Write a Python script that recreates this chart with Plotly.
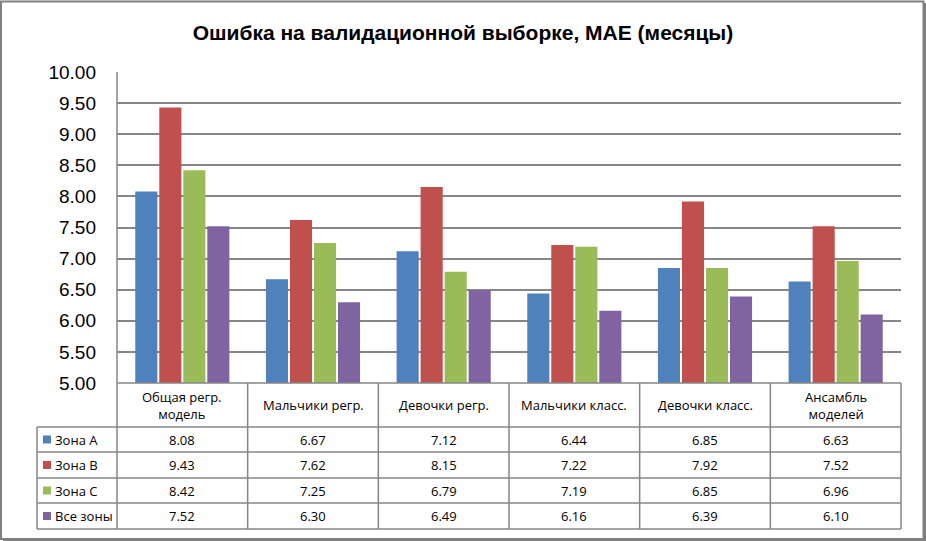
import plotly.graph_objects as go

categories = ["Общая регр.<br>модель", "Мальчики регр.", "Девочки регр.",
              "Мальчики класс.", "Девочки класс.", "Ансамбль<br>моделей"]
series_names = ["Зона А", "Зона В", "Зона С", "Все зоны"]
zone_a = [8.08, 6.67, 7.12, 6.44, 6.85, 6.63]
zone_b = [9.43, 7.62, 8.15, 7.22, 7.92, 7.52]
zone_c = [8.42, 7.25, 6.79, 7.19, 6.85, 6.96]
all_zones = [7.52, 6.30, 6.49, 6.16, 6.39, 6.10]
series_values = [zone_a, zone_b, zone_c, all_zones]
colors = ["#4F81BD", "#C0504D", "#9BBB59", "#8064A2"]
y_ticks = [5.0, 5.5, 6.0, 6.5, 7.0, 7.5, 8.0, 8.5, 9.0, 9.5, 10.0]

W, H = 926, 541
L, R, T, B = 117, 901, 72, 383
GRID = "#868686"
TXT_FONT = dict(family="Open Sans, Liberation Sans, sans-serif", size=13, color="#000000")

def px_x(px):
    return (px - L) / (R - L)

def px_y(py):
    return (B - py) / (B - T)

fig = go.Figure()
x_idx = list(range(len(categories)))
for name, vals, col in zip(series_names, series_values, colors):
    fig.add_trace(go.Bar(x=x_idx, y=vals, name=name, marker=dict(color=col, line=dict(width=0)),
                         showlegend=False))

# Table geometry (pixels)
col_edges = [L + i * (R - L) / len(categories) for i in range(len(categories) + 1)]
row_edges = [B, 427, 452, 478, 503, 529]
table_left = 37

shapes = []
def line(x0, y0, x1, y1, w=1.5):
    shapes.append(dict(type="line", xref="paper", yref="paper",
                       x0=px_x(x0), y0=px_y(y0), x1=px_x(x1), y1=px_y(y1),
                       line=dict(color=GRID, width=w), layer="above"))

# horizontal lines
line(L, row_edges[0], R, row_edges[0])
for ry in row_edges[1:]:
    line(table_left, ry, R, ry)
# vertical lines
line(L, T, L, row_edges[-1])
for cx in col_edges[1:]:
    line(cx, row_edges[0], cx, row_edges[-1])
line(table_left, row_edges[1], table_left, row_edges[-1])

annotations = []
# header labels
for i, cat in enumerate(categories):
    cx = (col_edges[i] + col_edges[i + 1]) / 2
    annotations.append(dict(x=px_x(cx), y=px_y((row_edges[0] + row_edges[1]) / 2),
                            xref="paper", yref="paper", text=cat, showarrow=False,
                            font=TXT_FONT, xanchor="center", yanchor="middle"))
# rows
for r, (name, vals, col) in enumerate(zip(series_names, series_values, colors)):
    cy = (row_edges[r + 1] + row_edges[r + 2]) / 2
    shapes.append(dict(type="rect", xref="paper", yref="paper",
                       x0=px_x(43), x1=px_x(51), y0=px_y(cy - 4), y1=px_y(cy + 4),
                       fillcolor=col, line=dict(width=0), layer="above"))
    annotations.append(dict(x=px_x(53), y=px_y(cy), xref="paper", yref="paper", text=name,
                            showarrow=False, font=TXT_FONT, xanchor="left", yanchor="middle"))
    for i, v in enumerate(vals):
        cx = (col_edges[i] + col_edges[i + 1]) / 2
        annotations.append(dict(x=px_x(cx), y=px_y(cy), xref="paper", yref="paper",
                                text=f"{v:.2f}", showarrow=False, font=TXT_FONT,
                                xanchor="center", yanchor="middle"))

# outer chart border
shapes.append(dict(type="rect", xref="paper", yref="paper",
                   x0=px_x(1), x1=px_x(923.5), y0=px_y(1.5), y1=px_y(539),
                   line=dict(color="#808080", width=2), layer="above"))
shapes.append(dict(type="line", xref="paper", yref="paper",
                   x0=px_x(925), x1=px_x(925), y0=px_y(3), y1=px_y(541),
                   line=dict(color="#808080", width=2), layer="above"))
shapes.append(dict(type="line", xref="paper", yref="paper",
                   x0=px_x(3), x1=px_x(925), y0=px_y(540.5), y1=px_y(540.5),
                   line=dict(color="#808080", width=2), layer="above"))

fig.update_layout(
    width=W, height=H,
    margin=dict(l=L, r=W - R, t=T, b=H - B, pad=0),
    paper_bgcolor="white", plot_bgcolor="white",
    barmode="group", bargap=0.265, bargroupgap=0.08,
    title=dict(text="<b>Ошибка на валидационной выборке, MAE (месяцы)</b>",
               x=0.5, xanchor="center", y=1 - 33 / H, yanchor="middle",
               font=dict(family="Liberation Sans, sans-serif", size=21, color="#000000")),
    xaxis=dict(range=[-0.5, len(categories) - 0.5], showticklabels=False, showgrid=False,
               zeroline=False, showline=False, ticks="", fixedrange=True),
    yaxis=dict(range=[5, 10], tickvals=y_ticks, ticktext=[f"{v:.2f}" for v in y_ticks],
               showgrid=True, gridcolor=GRID, gridwidth=1.5, zeroline=False,
               showline=False, ticks="", ticklabelstandoff=20,
               tickfont=dict(family="Liberation Sans, sans-serif", size=19, color="#000000")),
    shapes=shapes, annotations=annotations, showlegend=False,
)

fig.write_html("out.html")
